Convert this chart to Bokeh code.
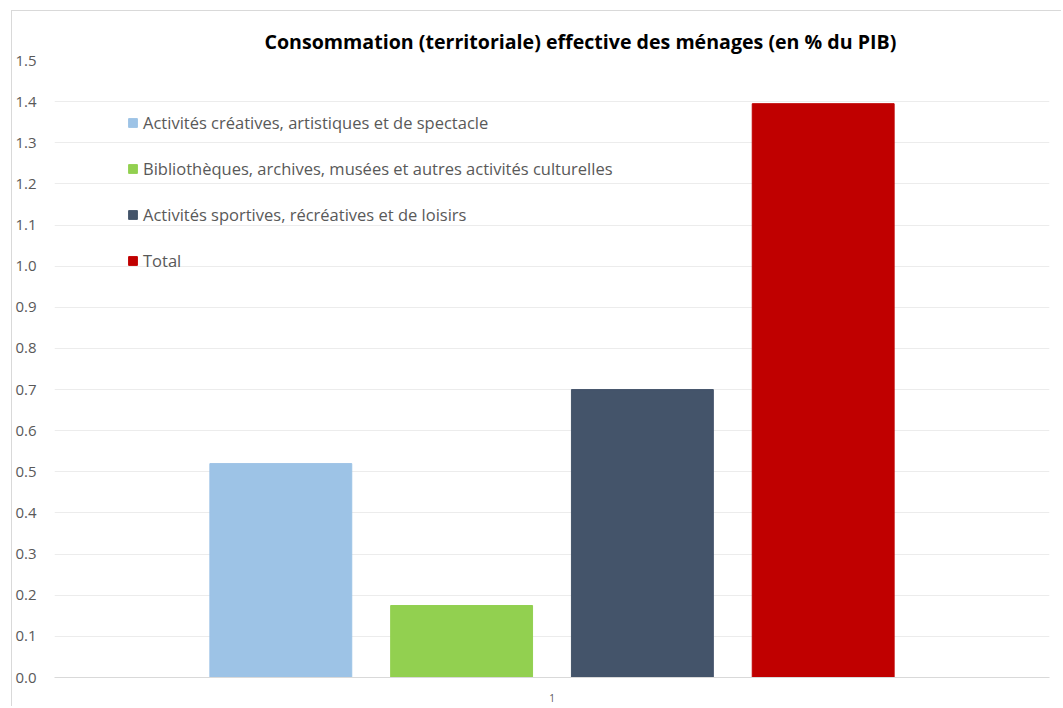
from bokeh.plotting import figure
from bokeh.models import ColumnDataSource, FactorRange, Range1d, FixedTicker, NumeralTickFormatter, Legend, LegendItem, Title
from bokeh.transform import dodge
from bokeh.embed import file_html
from bokeh.resources import INLINE

title_text = "Consommation (territoriale) effective des ménages (en % du PIB)"
categories = ["1"]
series = [
    "Activités créatives, artistiques et de spectacle",
    "Bibliothèques, archives, musées et autres activités culturelles",
    "Activités sportives, récréatives et de loisirs",
    "Total",
]
values = [0.52, 0.175, 0.70, 1.395]
colors = ["#9dc3e6", "#92d050", "#44546a", "#c00000"]
y_ticks = [0.0, 0.1, 0.2, 0.3, 0.4, 0.5, 0.6, 0.7, 0.8, 0.9, 1.0, 1.1, 1.2, 1.3, 1.4, 1.5]

FONT = "Open Sans"
GRAY = "#595959"

p = figure(
    width=1050, height=696,
    x_range=FactorRange(factors=categories, range_padding=0),
    y_range=Range1d(0, 1.5),
    output_backend="svg", toolbar_location=None,
    min_border_left=41, min_border_right=13, min_border_top=49, min_border_bottom=30,
)
p.margin = (10, 0, 0, 11)
p.styles = {"border-left": "1px solid #d9d9d9", "border-top": "1px solid #d9d9d9"}

t = Title(text=title_text, align="left", offset=210, text_font=FONT,
          text_font_size="19.6px", text_font_style="bold", text_color="#000000", standoff=12)
p.add_layout(t, "above")

n = len(series)
step = 0.1817
bar_w = 0.1426
items = []
for i, (name, v, c) in enumerate(zip(series, values, colors)):
    src = ColumnDataSource(dict(x=categories, top=[v]))
    r = p.vbar(x=dodge("x", (i - (n - 1) / 2) * step, range=p.x_range), top="top", width=bar_w,
               source=src, fill_color=c, line_color=c)
    items.append(LegendItem(label=name, renderers=[r]))

legend = Legend(items=items, location=(73, 405), orientation="vertical",
                label_text_font=FONT, label_text_font_size="16.5px", label_text_color=GRAY,
                glyph_width=11, glyph_height=11, label_height=20, spacing=23,
                label_standoff=5, padding=0, margin=0,
                border_line_color=None, background_fill_alpha=0)
p.add_layout(legend, "center")

p.outline_line_color = None
p.xgrid.grid_line_color = None
p.ygrid.grid_line_color = "#ececec"
p.ygrid.ticker = FixedTicker(ticks=y_ticks)

p.yaxis.ticker = FixedTicker(ticks=y_ticks)
p.yaxis.formatter = NumeralTickFormatter(format="0.0")
p.yaxis.axis_line_color = None
p.yaxis.major_tick_line_color = None
p.yaxis.minor_tick_line_color = None
p.yaxis.major_label_text_font = FONT
p.yaxis.major_label_text_font_size = "15px"
p.yaxis.major_label_text_color = GRAY
p.yaxis.major_label_standoff = 12

p.xaxis.axis_line_color = "#d9d9d9"
p.xaxis.major_tick_line_color = None
p.xaxis.minor_tick_line_color = None
p.xaxis.major_label_text_font = FONT
p.xaxis.major_label_text_font_size = "10px"
p.xaxis.major_label_text_color = GRAY
p.xaxis.major_label_standoff = 10

open("out.html", "w").write(file_html(p, INLINE))
